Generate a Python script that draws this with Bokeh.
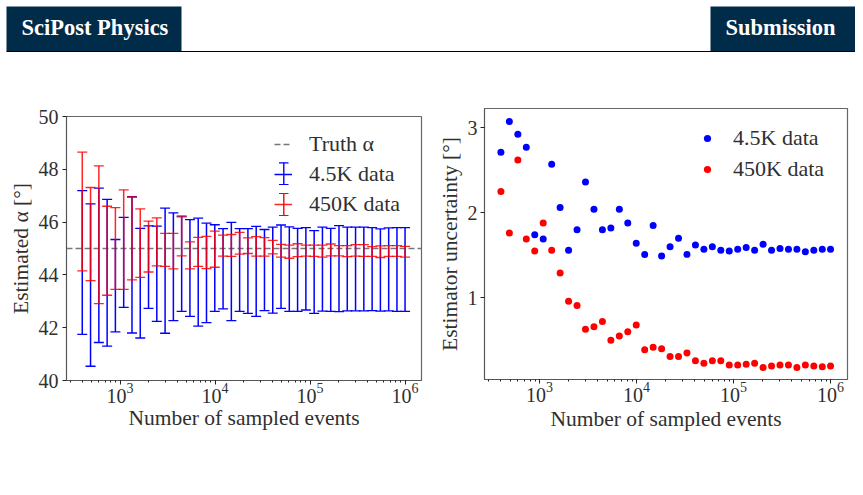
from bokeh.plotting import figure
from bokeh.models import (Legend, LegendItem, BoxAnnotation, Label, FixedTicker,
                          Range1d, Spacer)
from bokeh.layouts import column, row
from bokeh.embed import file_html
from bokeh.resources import INLINE

SERIF = "Liberation Serif"
TEXT = "#303030"
BLUE = "#0000ff"
RED = "#ff0000"
NAVY = "#002b49"

events = [400, 489, 598, 731, 893, 1092, 1335, 1631, 1994, 2437, 2979, 3641, 4451,
          5440, 6649, 8127, 9934, 12142, 14841, 18140, 22172, 27100, 33125, 40488,
          49487, 60487, 73932, 90365, 110451, 135001, 165008, 201684, 246514,
          301308, 368281, 450139, 550193, 672483, 821966, 1000000]

blue_hi = [47.19, 46.69, 47.29, 46.86, 45.34, 46.18, 46.96, 45.76, 45.86, 45.85, 46.53,
           46.35, 46.23, 46.09, 46.15, 45.96, 45.90, 45.75, 45.99, 45.75, 45.75, 45.84,
           45.72, 45.81, 45.89, 45.82, 45.76, 45.79, 45.68, 45.81, 45.76, 45.87, 45.81,
           45.81, 45.81, 45.79, 45.74, 45.78, 45.79, 45.79]
blue_lo = [41.75, 40.54, 41.44, 41.30, 41.84, 42.77, 41.80, 41.61, 42.73, 42.24, 41.79,
           42.27, 42.62, 42.43, 42.06, 42.19, 42.62, 42.71, 42.27, 42.62, 42.54, 42.43,
           42.65, 42.55, 42.73, 42.62, 42.62, 42.67, 42.54, 42.63, 42.62, 42.61, 42.64,
           42.64, 42.64, 42.65, 42.63, 42.64, 42.62, 42.62]
red_hi = [48.65, 47.31, 48.13, 46.60, 46.55, 47.22, 46.95, 46.50, 46.04, 46.16, 45.57,
          45.57, 46.20, 45.25, 45.42, 45.46, 45.66, 45.51, 45.53, 45.61, 45.40, 45.45,
          45.41, 45.31, 45.16, 45.13, 45.18, 45.13, 45.13, 45.13, 45.17, 45.11, 45.11,
          45.15, 45.15, 45.07, 45.10, 45.11, 45.11, 45.08]
red_lo = [44.15, 43.78, 42.91, 43.23, 43.45, 43.45, 43.81, 43.91, 44.11, 44.34, 44.32,
          44.23, 44.72, 44.23, 44.32, 44.24, 44.29, 44.71, 44.70, 44.79, 44.81, 44.71,
          44.71, 44.80, 44.67, 44.63, 44.69, 44.71, 44.70, 44.67, 44.72, 44.72, 44.69,
          44.71, 44.70, 44.70, 44.66, 44.70, 44.70, 44.67]

blue_unc = [2.71, 3.07, 2.92, 2.77, 1.74, 1.69, 2.57, 2.06, 1.56, 1.80, 2.36, 2.04, 1.80,
            1.82, 2.04, 1.88, 1.64, 1.51, 1.85, 1.49, 1.60, 1.70, 1.51, 1.62, 1.57, 1.60,
            1.56, 1.55, 1.57, 1.59, 1.56, 1.63, 1.56, 1.58, 1.57, 1.57, 1.54, 1.56, 1.57,
            1.57]
red_unc = [2.25, 1.76, 2.62, 1.69, 1.55, 1.88, 1.56, 1.29, 0.96, 0.91, 0.63, 0.66, 0.72,
           0.50, 0.55, 0.60, 0.68, 0.39, 0.42, 0.40, 0.31, 0.31, 0.35, 0.26, 0.23, 0.26,
           0.26, 0.21, 0.21, 0.22, 0.23, 0.18, 0.20, 0.21, 0.21, 0.18, 0.21, 0.20, 0.19,
           0.20]

truth_alpha = 45
label_x = "Number of sampled events"
label_left = "Estimated α [°]"
label_right = "Estimator uncertainty [°]"
legend_truth = "Truth α"
legend_blue = "4.5K data"
legend_red = "450K data"
left_ticks = [40, 42, 44, 46, 48, 50]
right_ticks = [1, 2, 3]
header_left = "SciPost Physics"
header_right = "Submission"


def style(p, yticks, x_s1, x_s2, y_s1, y_s2):
    p.outline_line_color = "#666666"
    p.outline_line_width = 1.2
    p.grid.visible = False
    for ax in (p.xaxis[0], p.yaxis[0]):
        ax.major_label_text_font = SERIF
        ax.major_label_text_font_size = "20px"
        ax.major_label_text_color = TEXT
        ax.axis_label_text_font = SERIF
        ax.axis_label_text_font_size = "21.5px"
        ax.axis_label_text_font_style = "normal"
        ax.axis_label_text_color = TEXT
        ax.axis_line_color = "#555555"
        ax.major_tick_line_color = "#222222"
        ax.minor_tick_line_color = "#222222"
        ax.major_tick_in = 0
        ax.minor_tick_in = 0
        ax.major_tick_out = 4
        ax.minor_tick_out = 2
    p.yaxis[0].ticker = FixedTicker(ticks=yticks)
    p.yaxis[0].minor_tick_out = 0
    p.yaxis[0].major_label_orientation = "horizontal"
    p.xaxis[0].major_label_standoff = x_s1
    p.xaxis[0].axis_label_standoff = x_s2
    p.yaxis[0].major_label_standoff = y_s1
    p.yaxis[0].axis_label_standoff = y_s2


def errbars(p, lo, hi, color, alpha):
    seg = p.segment(events, lo, events, hi, line_color=color, line_width=1.5, line_alpha=alpha)
    for v in (lo, hi):
        p.scatter(events, v, marker="dash", size=10, line_color=color, line_width=1.3,
                  line_alpha=alpha, fill_alpha=0)
    return seg


# ---- left panel
p1 = figure(width=432, height=376, x_axis_type="log", output_backend="svg", toolbar_location=None,
            x_range=Range1d(273, 1.49e6), y_range=Range1d(40, 50),
            x_axis_label=label_x, y_axis_label=label_left,
            min_border_left=66, min_border_right=11, min_border_top=56, min_border_bottom=56)
style(p1, left_ticks, -2, 0, 4, 3)
truth = p1.line([273, 1.49e6], [truth_alpha, truth_alpha], line_color="#777777", line_width=1.3,
                line_dash=[6, 3])
b_seg = errbars(p1, blue_lo, blue_hi, BLUE, 1.0)
r_seg = errbars(p1, red_lo, red_hi, RED, 0.85)

leg1 = Legend(items=[LegendItem(label=legend_truth, renderers=[truth]),
                     LegendItem(label=legend_blue, renderers=[b_seg]),
                     LegendItem(label=legend_red, renderers=[r_seg])],
              location=(208, 163), margin=0, padding=0, spacing=4, glyph_width=18, glyph_height=24,
              label_standoff=17, label_height=24, border_line_color=None, background_fill_alpha=0,
              label_text_font=SERIF, label_text_font_size="22px", label_text_color=TEXT,
              label_text_baseline="middle")
p1.add_layout(leg1, "center")

# error-bar shape of the two legend keys: frame-relative pixels, y upward
for col, top, bot in ((BLUE, 217.7, 196), (RED, 187, 165)):
    for (l, r, t, b) in ((216.6, 218, top, bot),
                         (212.5, 222, top + .6, top - .6),
                         (212.5, 222, bot + .6, bot - .6)):
        p1.add_layout(BoxAnnotation(left=l, right=r, top=t, bottom=b,
                                    left_units="screen", right_units="screen",
                                    top_units="screen", bottom_units="screen",
                                    fill_color=col, fill_alpha=1, line_color=None, level="overlay"))

# ---- right panel
p2 = figure(width=423, height=384, x_axis_type="log", output_backend="svg", toolbar_location=None,
            x_range=Range1d(271, 1.496e6), y_range=Range1d(0.04, 3.224),
            x_axis_label=label_x, y_axis_label=label_right,
            min_border_left=52, min_border_right=8, min_border_top=56, min_border_bottom=57)
style(p2, right_ticks, -2, 2, 3, 3)
b_pts = p2.scatter(events, blue_unc, size=7, fill_color=BLUE, line_color=None)
r_pts = p2.scatter(events, red_unc, size=7, fill_color=RED, line_color=None)
leg2 = Legend(items=[LegendItem(label=legend_blue, renderers=[b_pts]),
                     LegendItem(label=legend_red, renderers=[r_pts])],
              location=(214, 197), margin=0, padding=0, spacing=5, glyph_width=18, glyph_height=18,
              label_standoff=17, label_height=24, border_line_color=None, background_fill_alpha=0,
              label_text_font=SERIF, label_text_font_size="22px", label_text_color=TEXT,
              label_text_baseline="middle")
p2.add_layout(leg2, "center")

# ---- journal header
head = figure(width=855, height=52, output_backend="svg", toolbar_location=None,
              x_range=Range1d(0, 855), y_range=Range1d(0, 52),
              min_border=0, outline_line_color=None)
head.axis.visible = False
head.grid.visible = False
for l, r in ((6, 181), (710, 855)):
    head.add_layout(BoxAnnotation(left=l, right=r, top=46, bottom=1,
                                  left_units="screen", right_units="screen",
                                  top_units="screen", bottom_units="screen",
                                  fill_color=NAVY, fill_alpha=1, line_color=None))
head.add_layout(BoxAnnotation(left=6, right=855, top=1.5, bottom=0,
                              left_units="screen", right_units="screen",
                              top_units="screen", bottom_units="screen",
                              fill_color="#000000", fill_alpha=1, line_color=None))
for txt, x in ((header_left, 21), (header_right, 725)):
    head.add_layout(Label(x=x, y=25.5, x_units="screen", y_units="screen", text=txt,
                          text_font=SERIF, text_font_style="bold", text_font_size="22.5px",
                          text_color="#ffffff", text_baseline="middle"))

left_col = column(Spacer(width=432, height=8), p1, spacing=0)
page = column(head, row(left_col, column(p2, spacing=0), spacing=0), spacing=0)
open("out.html", "w").write(file_html(page, INLINE))
